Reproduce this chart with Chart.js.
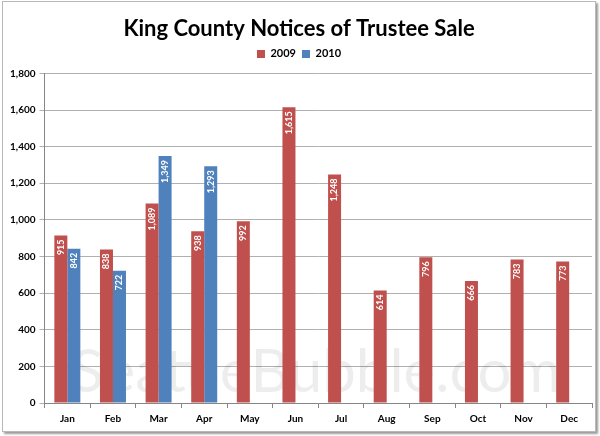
<!DOCTYPE html>
<html>
<head>
<meta charset="utf-8">
<script src="https://cdn.jsdelivr.net/npm/chart.js@4/dist/chart.umd.min.js"></script>
<style>
  html, body { margin: 0; padding: 0; background: #fff; }
  #frame {
    position: absolute; left: 2px; top: 1px; width: 592px; height: 429px;
    border: 1px solid #b8b8b8; box-shadow: 2px 2px 2px #9a9a9a; background: #fff;
  }
  #wrap { position: absolute; left: 0; top: 0; width: 600px; height: 436px; }
</style>
</head>
<body>
<div id="frame"></div>
<div id="wrap"><canvas id="chart"></canvas></div>
<script>
const months = ['Jan', 'Feb', 'Mar', 'Apr', 'May', 'Jun', 'Jul', 'Aug', 'Sep', 'Oct', 'Nov', 'Dec'];
const sales2009 = [915, 838, 1089, 938, 992, 1615, 1248, 614, 796, 666, 783, 773];
const sales2010 = [842, 722, 1349, 1293, null, null, null, null, null, null, null, null];

const FONT = 'Lato, "Open Sans", sans-serif';

// watermark behind the bars
const watermark = {
    id: 'watermark',
    beforeDatasetsDraw(chart) {
        const { ctx, chartArea } = chart;
        ctx.save();
        ctx.fillStyle = 'rgba(0,0,0,0.07)';
        ctx.font = '60px ' + FONT;
        ctx.textAlign = 'center';
        ctx.textBaseline = 'alphabetic';
        ctx.fillText('SeattleBubble.com', 316, chartArea.bottom - 11);
        ctx.restore();
    },
};

// extra gap under the legend
const legendGap = {
    id: 'legendGap',
    beforeInit(chart) {
        const fit = chart.legend.fit;
        chart.legend.fit = function () {
            fit.bind(chart.legend)();
            this.height += 4;
        };
    },
};

// rotated white value labels inside the top of each bar
const barLabels = {
    id: 'barLabels',
    afterDatasetsDraw(chart) {
        const { ctx } = chart;
        ctx.save();
        ctx.fillStyle = '#fff';
        ctx.font = 'bold 9px ' + FONT;
        ctx.textAlign = 'right';
        ctx.textBaseline = 'middle';
        chart.data.datasets.forEach((ds, i) => {
            chart.getDatasetMeta(i).data.forEach((bar, j) => {
                const v = ds.data[j];
                if (v == null) return;
                ctx.save();
                ctx.translate(bar.x, bar.y + 4);
                ctx.rotate(-Math.PI / 2);
                ctx.fillText(v.toLocaleString('en-US'), 0, 0);
                ctx.restore();
            });
        });
        ctx.restore();
    },
};

new Chart(document.getElementById('chart'), {
    type: 'bar',
    data: {
        labels: months,
        datasets: [
            { label: '2009', data: sales2009, backgroundColor: '#C0504D' },
            { label: '2010', data: sales2010, backgroundColor: '#4F81BD' },
        ],
    },
    options: {
        responsive: true,
        maintainAspectRatio: false,
        animation: false,
        categoryPercentage: 0.57,
        barPercentage: 1.0,
        layout: { padding: { left: 6, right: 8, top: 4, bottom: 6 } },
        plugins: {
            title: {
                display: true,
                text: 'King County Notices of Trustee Sale',
                color: '#000',
                font: { family: FONT, size: 22, weight: 'bold' },
                padding: { top: 12, bottom: 0 },
            },
            legend: {
                position: 'top',
                labels: {
                    boxWidth: 8, boxHeight: 8, color: '#000',
                    font: { family: FONT, size: 11, weight: 'bold' },
                    padding: 6,
                },
            },
            tooltip: { enabled: false },
        },
        scales: {
            x: {
                grid: { display: true, drawOnChartArea: false, offset: true, color: '#868686', tickLength: 5 },
                border: { color: '#868686' },
                ticks: { color: '#000', font: { family: FONT, size: 10, weight: 'bold' }, padding: 5 },
            },
            y: {
                min: 0, max: 1800,
                ticks: {
                    stepSize: 200, color: '#000',
                    font: { family: FONT, size: 10, weight: 'bold' },
                    callback: (v) => v.toLocaleString('en-US'),
                    padding: 4,
                },
                grid: { color: '#b0b0b0', tickLength: 5 },
                border: { color: '#868686' },
            },
        },
    },
    plugins: [watermark, legendGap, barLabels],
});
</script>
</body>
</html>
